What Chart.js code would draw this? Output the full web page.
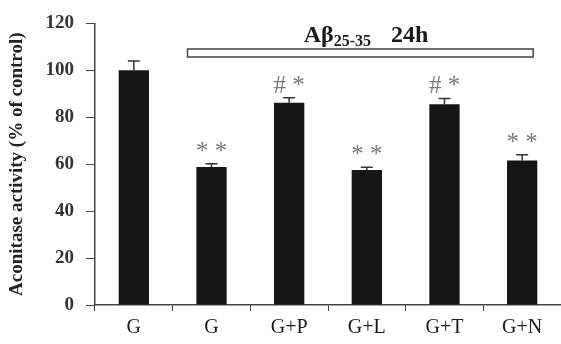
<!DOCTYPE html>
<html>
<head>
<meta charset="utf-8">
<script src="https://cdn.jsdelivr.net/npm/chart.js@4.4.1/dist/chart.umd.min.js"></script>
<style>
  html, body { margin: 0; padding: 0; background: #fff; }
  #wrap { width: 561px; height: 344px; position: relative; }
</style>
</head>
<body>
<div id="wrap"><canvas id="myChart"></canvas></div>
<script>
// values
const labels_groups = ['G', 'G', 'G+P', 'G+L', 'G+T', 'G+N'];
const values_aconitase = [100, 58.8, 86.2, 57.5, 85.6, 61.6];
const values_error = [4, 1.4, 2.1, 1.2, 2.4, 2.4];
const marks_signif = ['', '* *', '# *', '* *', '# *', '* *'];
const y_ticks = [0, 20, 40, 60, 80, 100, 120];

const serif = '"Liberation Serif", "DejaVu Serif", serif';

// error bars (upper only) + significance marks + treatment bar
const extras = {
    id: 'extras',
    afterDatasetsDraw(chart) {
        const ctx = chart.ctx;
        const x = chart.scales.x, y = chart.scales.y;
        const meta = chart.getDatasetMeta(0);
        ctx.save();
        values_aconitase.forEach(function(v, i) {
            const cx = meta.data[i].x;
            const top = y.getPixelForValue(v);
            const cap = y.getPixelForValue(v + values_error[i]);
            ctx.strokeStyle = '#333';
            ctx.lineWidth = 1.5;
            ctx.beginPath();
            ctx.moveTo(cx, top);
            ctx.lineTo(cx, cap);
            ctx.moveTo(cx - 6, cap);
            ctx.lineTo(cx + 6, cap);
            ctx.stroke();
            if (marks_signif[i]) {
                ctx.fillStyle = '#7a7a7a';
                ctx.font = '25px ' + serif;
                ctx.textAlign = 'center';
                ctx.textBaseline = 'alphabetic';
                ctx.fillText(marks_signif[i], cx, cap - 5);
            }
        });
        // open rectangle showing the A-beta treatment
        const left = x.getPixelForValue(1) - 24;
        const right = x.getPixelForValue(5) + 11;
        ctx.strokeStyle = '#444';
        ctx.lineWidth = 1.5;
        ctx.fillStyle = '#fff';
        ctx.fillRect(left, 49, right - left, 8);
        ctx.strokeRect(left, 49, right - left, 8);
        // title "Aβ25-35  24h"
        ctx.fillStyle = '#1a1a1a';
        ctx.textBaseline = 'alphabetic';
        ctx.textAlign = 'left';
        ctx.font = 'bold 24px ' + serif;
        const a = 'A\u03b2';
        const sub = '25-35';
        const h = '24h';
        const wA = ctx.measureText(a).width;
        ctx.font = 'bold 16px ' + serif;
        const wS = ctx.measureText(sub).width;
        ctx.font = 'bold 24px ' + serif;
        const wH = ctx.measureText(h).width;
        const gap = 20;
        let tx = 366 - (wA + wS + gap + wH) / 2;
        ctx.fillText(a, tx, 42);
        tx += wA;
        ctx.font = 'bold 16px ' + serif;
        ctx.fillText(sub, tx, 46);
        tx += wS + gap;
        ctx.font = 'bold 24px ' + serif;
        ctx.fillText(h, tx, 42);
        ctx.restore();
    }
};

const canvas = document.getElementById('myChart');
const ctx = canvas.getContext('2d');
const config = {
    type: 'bar',
    data: {
        labels: labels_groups,
        datasets: [{
            data: values_aconitase,
            backgroundColor: '#151515',
            borderWidth: 0,
            categoryPercentage: 1,
            barPercentage: 0.39
        }]
    },
    options: {
        responsive: false,
        animation: false,
        layout: { padding: { top: 20, right: 0, left: 6, bottom: 0 } },
        plugins: {
            legend: { display: false },
            tooltip: { enabled: false }
        },
        scales: {
            x: {
                grid: {
                    display: true,
                    drawOnChartArea: false,
                    drawTicks: true,
                    tickLength: 6,
                    color: '#444',
                    offset: true
                },
                border: { color: '#444', width: 1.5 },
                ticks: {
                    color: '#1a1a1a',
                    font: { family: serif, size: 20 },
                    padding: 5,
                    maxRotation: 0
                },
                afterFit: function(scale) { scale.height = 39; }
            },
            y: {
                min: 0,
                max: 120,
                afterBuildTicks: function(scale) {
                    scale.ticks = y_ticks.map(function(v) { return { value: v }; });
                },
                grid: {
                    display: true,
                    drawOnChartArea: false,
                    drawTicks: true,
                    tickLength: 9,
                    color: '#444'
                },
                border: { color: '#444', width: 1.5 },
                ticks: {
                    color: '#333',
                    font: { family: serif, size: 19, weight: 'bold' },
                    padding: 12
                },
                title: {
                    display: true,
                    text: 'Aconitase activity (% of control)',
                    color: '#222',
                    font: { family: serif, size: 19, weight: 'bold' },
                    padding: { top: 0, bottom: 0 }
                },
                afterFit: function(scale) { scale.width = 89; }
            }
        }
    },
    plugins: [extras]
};
canvas.width = 561;
canvas.height = 344;
const myChart = new Chart(ctx, config);
</script>
</body>
</html>
